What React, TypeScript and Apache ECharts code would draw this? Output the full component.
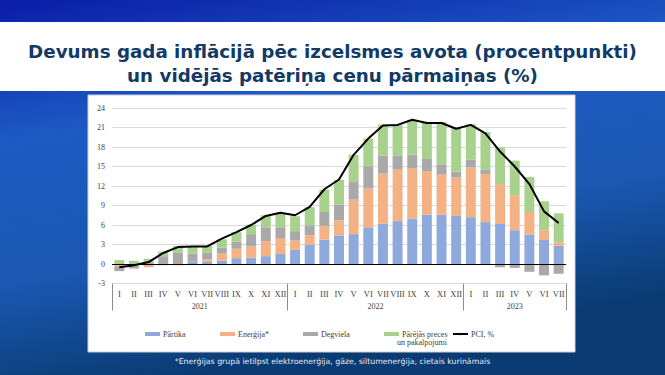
import React, { useEffect, useRef } from "react";
import * as echarts from "echarts";

const monthLabels = [
  "I", "II", "III", "IV", "V", "VI", "VII", "VIII", "IX", "X", "XI", "XII",
  "I", "II", "III", "IV", "V", "VI", "VII", "VIII", "IX", "X", "XI", "XII",
  "I", "II", "III", "IV", "V", "VI", "VII",
];
const categories = monthLabels.map((m, i) => `${m}-${2021 + Math.floor(i / 12)}`);
const yearLabels = ["2021", "2022", "2023"];
const yearCenters = [6, 18, 27.5];
const yearBounds = [0, 12, 24, 31];

const food = [0, 0, 0, 0, 0, 0.4, 0.3, 0.5, 0.9, 1.0, 1.2, 1.55,
  2.2, 3.0, 3.75, 4.4, 4.6, 5.65, 6.2, 6.6, 7.0, 7.6, 7.6, 7.4,
  7.2, 6.45, 6.15, 5.2, 4.5, 3.7, 2.8];
const energy = [-0.4, -0.3, -0.5, -0.2, -0.2, -0.1, 0.4, 1.1, 1.45, 1.7, 2.3, 2.45,
  1.4, 1.45, 2.05, 2.3, 5.3, 5.95, 7.7, 7.9, 7.75, 6.7, 6.15, 5.9,
  7.65, 7.4, 6.15, 5.4, 3.5, 1.55, 0.55];
const fuel = [-0.7, -0.4, 0.4, 1.2, 1.7, 1.2, 1.0, 0.9, 1.1, 1.9, 2.15, 1.65,
  1.45, 1.5, 2.2, 2.4, 2.7, 3.45, 2.75, 2.15, 2.05, 1.85, 1.6, 0.9,
  1.2, 0.7, -0.5, -0.6, -1.2, -1.75, -1.5];
const other = [0.6, 0.5, 0.4, 0.7, 1.1, 1.1, 1.1, 1.3, 1.45, 1.45, 1.85, 2.2,
  2.3, 2.8, 3.45, 3.85, 4.2, 4.25, 4.8, 4.8, 5.2, 5.7, 6.5, 6.7,
  5.45, 5.75, 5.65, 5.3, 5.4, 4.4, 4.45];
const pci = [-0.5, -0.2, 0.3, 1.7, 2.6, 2.7, 2.7, 3.9, 4.9, 6.0, 7.4, 7.9,
  7.5, 8.8, 11.5, 13.0, 16.8, 19.3, 21.3, 21.4, 22.2, 21.7, 21.7, 20.8,
  21.4, 20.1, 17.3, 15.0, 12.3, 8.1, 6.3];

const names = ["Pārtika", "Enerģija*", "Degviela", "Pārējās preces un pakalpojumi", "PCI, %"];
const colors = ["#8EA9DB", "#F4B183", "#A9A9A9", "#A9D18E", "#000000"];
const serif = "Liberation Serif";

export default function App() {
  const ref = useRef<HTMLDivElement>(null);
  useEffect(() => {
    const chart = echarts.init(ref.current!, undefined, { renderer: "svg" });
    const barSeries = [food, energy, fuel, other].map((d, i) => ({
      name: names[i],
      type: "bar",
      stack: "total",
      data: d,
      barWidth: "68%",
      itemStyle: { color: colors[i] },
      z: 2,
    }));
    const legendLefts = [140, 215, 298, 379, 447];
    chart.setOption({
      animation: false,
      backgroundColor: {
        type: "linear", x: 0, y: 0, x2: 0.3, y2: 1,
        colorStops: [
          { offset: 0, color: "#0a1ca8" },
          { offset: 0.35, color: "#1d5bc4" },
          { offset: 0.7, color: "#1a58b2" },
          { offset: 1, color: "#0a3b72" },
        ],
      },
      title: {
        text: "Devums gada inflācijā pēc izcelsmes avota (procentpunkti)\nun vidējās patēriņa cenu pārmaiņas (%)",
        left: "center",
        top: 34,
        textStyle: {
          fontFamily: "DejaVu Sans",
          fontWeight: "bold",
          fontSize: 18.3,
          lineHeight: 24,
          color: "#123A66",
          align: "center",
        },
      },
      graphic: [
        { type: "rect", z: -10, shape: { x: 0, y: 22, width: 665, height: 69 }, style: { fill: "#ffffff" } },
        { type: "rect", z: -10, shape: { x: 88, y: 95, width: 487, height: 257 }, style: { fill: "#ffffff", stroke: "#c8d0dc", lineWidth: 1 } },
        { type: "text", z: 10, left: 397, top: 338, style: { text: "un pakalpojumi", font: `8px "${serif}"`, fill: "#404040" } },
        { type: "text", z: 10, left: "center", top: 357, style: { text: "*Enerģijas grupā ietilpst elektroenerģija, gāze, siltumenerģija, cietais kurināmais", font: '7.8px "DejaVu Sans"', fill: "#e6eef8" } },
      ],
      legend: names.map((n, i) => ({
        data: [n],
        left: legendLefts[i],
        top: 325,
        itemWidth: 15,
        itemHeight: i === 4 ? 3 : 4,
        itemGap: 3,
        formatter: i === 3 ? () => "Pārējās preces" : undefined,
        textStyle: { fontFamily: serif, fontSize: 8, color: "#404040", padding: [0, 0, 0, -2] },
        icon: i === 4 ? undefined : "rect",
      })),
      grid: { left: 112, right: 99, top: 108, bottom: 91.5 },
      xAxis: [
        {
          type: "category",
          data: categories,
          axisLine: { show: false },
          axisTick: { show: false },
          axisLabel: {
            interval: 0,
            formatter: (v: string) => v.split("-")[0],
            fontFamily: serif,
            fontSize: 8.5,
            color: "#404040",
            margin: 6,
          },
        },
        {
          type: "value",
          min: 0,
          max: 31,
          position: "bottom",
          axisLine: { show: false },
          splitLine: { show: false },
          axisTick: {
            show: true,
            customValues: yearBounds,
            length: 27,
            lineStyle: { color: "#8c8c8c", width: 1 },
          },
          axisLabel: {
            customValues: yearCenters,
            formatter: (v: number) => yearLabels[yearCenters.indexOf(v)] ?? "",
            fontFamily: serif,
            fontSize: 8,
            color: "#404040",
            margin: 19,
          },
        },
      ],
      yAxis: {
        type: "value",
        min: -3,
        max: 24,
        interval: 3,
        axisLine: { show: false },
        axisTick: { show: false },
        axisLabel: { fontFamily: serif, fontSize: 8, color: "#404040", margin: 7 },
        splitLine: { lineStyle: { color: "#d9d9d9", width: 1 } },
      },
      series: [
        ...barSeries,
        {
          name: names[4],
          type: "line",
          data: pci,
          symbol: "none",
          lineStyle: { color: "#000", width: 2 },
          itemStyle: { color: "#000" },
          z: 5,
          markLine: {
            silent: true,
            symbol: "none",
            label: { show: false },
            lineStyle: { color: "#000", width: 1, type: "solid" },
            data: [{ yAxis: 0 }],
          },
        },
      ],
    });
    return () => chart.dispose();
  }, []);
  return (
    <div
      ref={ref}
      style={{ position: "fixed", left: 0, top: 0, width: 665, height: 375 }}
    />
  );
}
